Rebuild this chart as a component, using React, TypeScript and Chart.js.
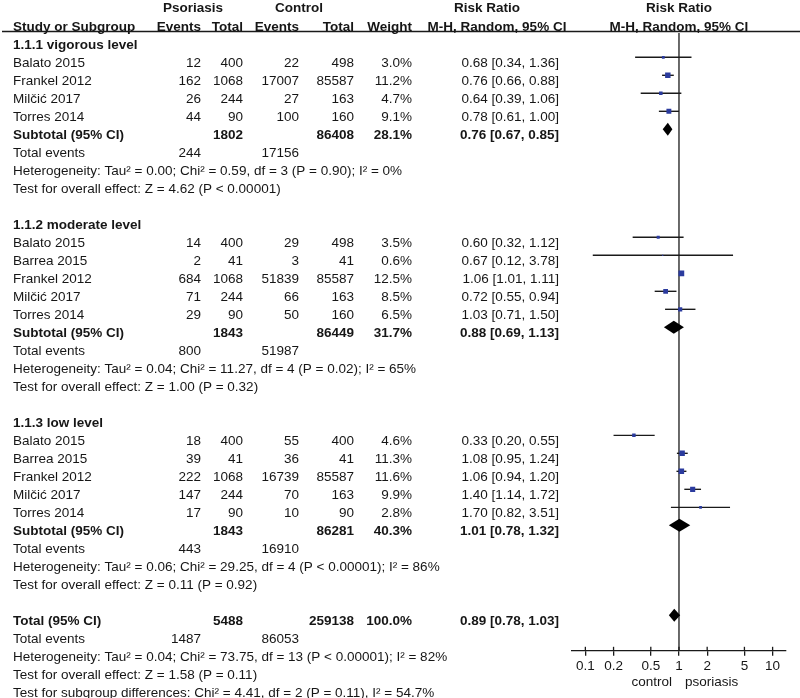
import React, { useEffect, useRef } from "react";
import { Chart, registerables } from "chart.js";

Chart.register(...registerables);

// ---------- data ----------
const groupTitles = ["1.1.1 vigorous level", "1.1.2 moderate level", "1.1.3 low level"];
const studyLabels = [
  "Balato 2015", "Frankel 2012", "Milčić 2017", "Torres 2014",
  "Balato 2015", "Barrea 2015", "Frankel 2012", "Milčić 2017", "Torres 2014",
  "Balato 2015", "Barrea 2015", "Frankel 2012", "Milčić 2017", "Torres 2014",
];
const studyGroup = [0, 0, 0, 0, 1, 1, 1, 1, 1, 2, 2, 2, 2, 2];
const psoEvents = [12, 162, 26, 44, 14, 2, 684, 71, 29, 18, 39, 222, 147, 17];
const psoTotal = [400, 1068, 244, 90, 400, 41, 1068, 244, 90, 400, 41, 1068, 244, 90];
const ctlEvents = [22, 17007, 27, 100, 29, 3, 51839, 66, 50, 55, 36, 16739, 70, 10];
const ctlTotal = [498, 85587, 163, 160, 498, 41, 85587, 163, 160, 400, 41, 85587, 163, 90];
const weights = [3.0, 11.2, 4.7, 9.1, 3.5, 0.6, 12.5, 8.5, 6.5, 4.6, 11.3, 11.6, 9.9, 2.8];
const riskRatio = [0.68, 0.76, 0.64, 0.78, 0.6, 0.67, 1.06, 0.72, 1.03, 0.33, 1.08, 1.06, 1.4, 1.7];
const ciLow = [0.34, 0.66, 0.39, 0.61, 0.32, 0.12, 1.01, 0.55, 0.71, 0.2, 0.95, 0.94, 1.14, 0.82];
const ciHigh = [1.36, 0.88, 1.06, 1.0, 1.12, 3.78, 1.11, 0.94, 1.5, 0.55, 1.24, 1.2, 1.72, 3.51];

const subPsoTotal = [1802, 1843, 1843];
const subCtlTotal = [86408, 86449, 86281];
const subWeight = [28.1, 31.7, 40.3];
const subRR = [0.76, 0.88, 1.01];
const subLow = [0.67, 0.69, 0.78];
const subHigh = [0.85, 1.13, 1.32];
const subPsoEvents = [244, 800, 443];
const subCtlEvents = [17156, 51987, 16910];
const subHet = [
  "Heterogeneity: Tau² = 0.00; Chi² = 0.59, df = 3 (P = 0.90); I² = 0%",
  "Heterogeneity: Tau² = 0.04; Chi² = 11.27, df = 4 (P = 0.02); I² = 65%",
  "Heterogeneity: Tau² = 0.06; Chi² = 29.25, df = 4 (P < 0.00001); I² = 86%",
];
const subTest = [
  "Test for overall effect: Z = 4.62 (P < 0.00001)",
  "Test for overall effect: Z = 1.00 (P = 0.32)",
  "Test for overall effect: Z = 0.11 (P = 0.92)",
];

const totalPso = 5488;
const totalCtl = 259138;
const totalWeight = 100.0;
const totalRR = 0.89;
const totalLow = 0.78;
const totalHigh = 1.03;
const totalPsoEvents = 1487;
const totalCtlEvents = 86053;
const totalHet = "Heterogeneity: Tau² = 0.04; Chi² = 73.75, df = 13 (P < 0.00001); I² = 82%";
const totalTest = "Test for overall effect: Z = 1.58 (P = 0.11)";
const subgroupTest = "Test for subgroup differences: Chi² = 4.41, df = 2 (P = 0.11), I² = 54.7%";

const axisTicks = [0.1, 0.2, 0.5, 1, 2, 5, 10];

// ---------- row layout ----------
type Row = {
  row: number;
  kind: "heading" | "study" | "subtotal" | "events" | "note" | "total";
  label: string;
  cells?: (string | null)[]; // psoE, psoT, ctlE, ctlT, weight, rr
  rr?: number; lo?: number; hi?: number; w?: number;
};

const fmt2 = (v: number) => v.toFixed(2);
const rrText = (r: number, l: number, h: number) => `${fmt2(r)} [${fmt2(l)}, ${fmt2(h)}]`;

function buildRows(): Row[] {
  const rows: Row[] = [];
  let r = 0;
  for (let g = 0; g < groupTitles.length; g++) {
    rows.push({ row: r, kind: "heading", label: groupTitles[g] });
    r++;
    for (let i = 0; i < studyLabels.length; i++) {
      if (studyGroup[i] !== g) continue;
      rows.push({
        row: r, kind: "study", label: studyLabels[i],
        cells: [String(psoEvents[i]), String(psoTotal[i]), String(ctlEvents[i]), String(ctlTotal[i]), weights[i].toFixed(1) + "%", rrText(riskRatio[i], ciLow[i], ciHigh[i])],
        rr: riskRatio[i], lo: ciLow[i], hi: ciHigh[i], w: weights[i],
      });
      r++;
    }
    rows.push({
      row: r, kind: "subtotal", label: "Subtotal (95% CI)",
      cells: [null, String(subPsoTotal[g]), null, String(subCtlTotal[g]), subWeight[g].toFixed(1) + "%", rrText(subRR[g], subLow[g], subHigh[g])],
      rr: subRR[g], lo: subLow[g], hi: subHigh[g],
    });
    r++;
    rows.push({ row: r, kind: "events", label: "Total events", cells: [String(subPsoEvents[g]), null, String(subCtlEvents[g]), null, null, null] });
    r++;
    rows.push({ row: r, kind: "note", label: subHet[g] });
    r++;
    rows.push({ row: r, kind: "note", label: subTest[g] });
    r += 2;
  }
  rows.push({
    row: r, kind: "total", label: "Total (95% CI)",
    cells: [null, String(totalPso), null, String(totalCtl), totalWeight.toFixed(1) + "%", rrText(totalRR, totalLow, totalHigh)],
    rr: totalRR, lo: totalLow, hi: totalHigh,
  });
  r++;
  rows.push({ row: r, kind: "events", label: "Total events", cells: [String(totalPsoEvents), null, String(totalCtlEvents), null, null, null] });
  r++;
  rows.push({ row: r, kind: "note", label: totalHet });
  r++;
  rows.push({ row: r, kind: "note", label: totalTest });
  r++;
  rows.push({ row: r, kind: "note", label: subgroupTest });
  return rows;
}

const FONT = "'Liberation Sans', Arial, Helvetica, sans-serif";
const FS = 13.5;
const TEXT = "#161616";
const LINE = "#1a1a1a";
const colRight = [201, 243, 299, 354, 412, 559];
const nameX = 13;

export default function App() {
  const ref = useRef<HTMLCanvasElement | null>(null);

  useEffect(() => {
    if (!ref.current) return;
    const rows = buildRows();
    const studyRows = rows.filter((r) => r.kind === "study");

    const forestPlugin = {
      id: "forest",
      beforeDatasetsDraw(chart: any) {
        const { ctx, chartArea } = chart;
        const xs = chart.scales.x;
        const ys = chart.scales.y;
        ctx.save();
        const x1 = xs.getPixelForValue(1);
        ctx.strokeStyle = LINE;
        ctx.lineWidth = 1.3;
        ctx.beginPath();
        ctx.moveTo(x1, chartArea.top);
        ctx.lineTo(x1, chartArea.bottom);
        ctx.stroke();
        ctx.lineWidth = 1.4;
        for (const r of studyRows) {
          const y = ys.getPixelForValue(r.row);
          ctx.beginPath();
          ctx.moveTo(xs.getPixelForValue(r.lo), y);
          ctx.lineTo(xs.getPixelForValue(r.hi), y);
          ctx.stroke();
        }
        ctx.restore();
      },
      afterDraw(chart: any) {
        const { ctx, chartArea } = chart;
        const xs = chart.scales.x;
        const ys = chart.scales.y;
        ctx.save();
        // diamonds
        ctx.fillStyle = "#000";
        for (const r of rows) {
          if (r.kind !== "subtotal" && r.kind !== "total") continue;
          const y = ys.getPixelForValue(r.row);
          const xc = xs.getPixelForValue(r.rr);
          ctx.beginPath();
          ctx.moveTo(xs.getPixelForValue(r.lo), y);
          ctx.lineTo(xc, y - 6.5);
          ctx.lineTo(xs.getPixelForValue(r.hi), y);
          ctx.lineTo(xc, y + 6.5);
          ctx.closePath();
          ctx.fill();
        }
        // tick marks above axis
        ctx.strokeStyle = LINE;
        ctx.lineWidth = 1.3;
        for (const t of axisTicks) {
          const x = xs.getPixelForValue(t);
          ctx.beginPath();
          ctx.moveTo(x, chartArea.bottom - 4);
          ctx.lineTo(x, chartArea.bottom);
          ctx.stroke();
        }
        // header
        const top = chartArea.top;
        const x1 = xs.getPixelForValue(1);
        ctx.fillStyle = TEXT;
        ctx.textBaseline = "middle";
        const put = (s: string, x: number, y: number, align: CanvasTextAlign, bold: boolean) => {
          ctx.font = `${bold ? "bold " : ""}${FS}px ${FONT}`;
          ctx.textAlign = align;
          ctx.fillText(s, x, y);
        };
        const h1 = top - 24.5;
        const h2 = top - 6;
        put("Psoriasis", 193, h1, "center", true);
        put("Control", 299, h1, "center", true);
        put("Risk Ratio", 487, h1, "center", true);
        put("Risk Ratio", x1, h1, "center", true);
        put("Study or Subgroup", nameX, h2, "left", true);
        const heads = ["Events", "Total", "Events", "Total", "Weight"];
        heads.forEach((h, i) => put(h, colRight[i], h2, "right", true));
        put("M-H, Random, 95% CI", 497, h2, "center", true);
        put("M-H, Random, 95% CI", x1, h2, "center", true);
        ctx.strokeStyle = LINE;
        ctx.lineWidth = 1.5;
        ctx.beginPath();
        ctx.moveTo(2, top - 1.5);
        ctx.lineTo(800, top - 1.5);
        ctx.stroke();
        // rows
        for (const r of rows) {
          const y = ys.getPixelForValue(r.row) + 5.5;
          const bold = r.kind === "heading" || r.kind === "subtotal" || r.kind === "total";
          put(r.label, nameX, y, "left", bold);
          if (r.cells) {
            r.cells.forEach((c, i) => {
              if (c !== null) put(c, colRight[i], y, "right", bold);
            });
          }
        }
        // direction labels
        const yb = chartArea.bottom + 31;
        put("control", x1 - 7, yb, "right", false);
        put("psoriasis", x1 + 6, yb, "left", false);
        ctx.restore();
      },
    };

    const sq = (w: number) => 1.15 * Math.sqrt(w);

    const chart = new Chart(ref.current, {
      type: "scatter",
      data: {
        datasets: [
          {
            data: studyRows.map((r) => ({ x: r.rr as number, y: r.row })),
            pointStyle: "rect",
            pointRadius: studyRows.map((r) => sq(r.w as number)),
            pointHoverRadius: studyRows.map((r) => sq(r.w as number)),
            backgroundColor: "#2b3b9e",
            borderWidth: 0,
          },
        ],
      },
      options: {
        responsive: false,
        animation: false,
        events: [],
        layout: { padding: { left: 572, right: 14, top: 33, bottom: 22 } },
        plugins: { legend: { display: false }, tooltip: { enabled: false } },
        scales: {
          x: {
            type: "logarithmic",
            position: "bottom",
            min: 0.072,
            max: 13.9,
            afterBuildTicks: (s: any) => {
              s.ticks = axisTicks.map((v) => ({ value: v }));
            },
            ticks: {
              autoSkip: false,
              maxRotation: 0,
              padding: 2,
              color: TEXT,
              font: { family: FONT, size: FS },
              callback: (v: any) => String(v),
            },
            grid: { display: true, drawOnChartArea: false, drawTicks: true, tickLength: 5, color: LINE, lineWidth: 1.3 },
            border: { display: true, color: LINE, width: 1.3 },
          },
          y: {
            type: "linear",
            reverse: true,
            min: -0.35,
            max: 33.97,
            display: false,
          },
        },
      },
      plugins: [forestPlugin],
    } as any);

    return () => chart.destroy();
  }, []);

  return (
    <div style={{ position: "absolute", left: 0, top: 0, width: 800, height: 698, background: "#fff" }}>
      <canvas ref={ref} width={800} height={698} style={{ display: "block", width: 800, height: 698 }} />
    </div>
  );
}
